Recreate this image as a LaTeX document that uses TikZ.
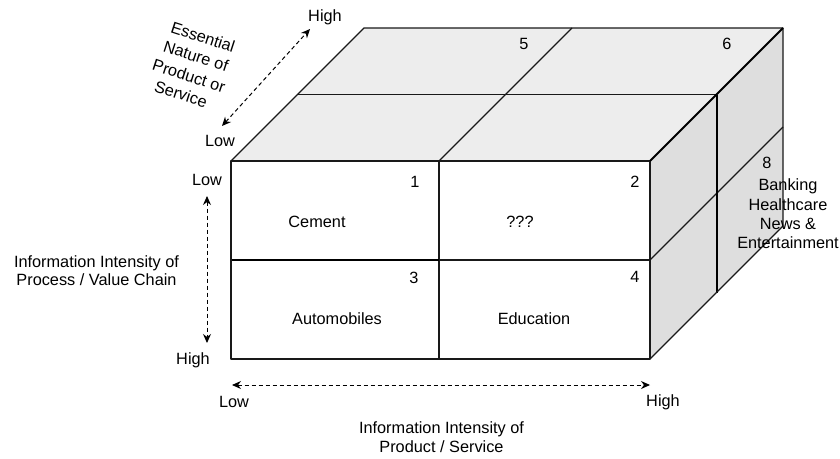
\documentclass[tikz,border=0pt]{standalone}
\usepackage{fontspec}
\setmainfont{Liberation Sans}
\usetikzlibrary{arrows.meta}
\begin{document}
\begin{tikzpicture}[x=1pt,y=-1pt,
  edge/.style={draw=black!90,line width=1.3pt,line join=round},
  thickedge/.style={draw=black,line width=2pt},
  lbl/.style={font=\fontsize{16.3}{19}\selectfont,inner sep=0pt,align=center},
  rlbl/.style={lbl,rotate=-18},
  axis/.style={line width=1pt,dash pattern=on 4pt off 3pt,{Stealth[length=9pt,width=8pt]}-{Stealth[length=9pt,width=8pt]}}]
\useasboundingbox[fill=white] (0,0) rectangle (840,458);
% cube corners
\coordinate (FTL) at (231,161);
\coordinate (FTR) at (650,161);
\coordinate (FBL) at (231,359);
\coordinate (FBR) at (650,359);
\coordinate (BTL) at (364,28);
\coordinate (BTR) at (783,28);
\coordinate (BBR) at (783,226);
% faces
\path[fill=white] (FTL) -- (FTR) -- (FBR) -- (FBL) -- cycle;
\path[fill=black!7] (FTL) -- (BTL) -- (BTR) -- (FTR) -- cycle;
\path[fill=black!13] (FTR) -- (BTR) -- (BBR) -- (FBR) -- cycle;
% inner grid lines
\coordinate (TML) at (297.5,94.5);
\coordinate (TMR) at (716.5,94.5);
\coordinate (RMB) at (716.5,292.5);
\coordinate (FTM) at (439,161);
\coordinate (BTM) at (572,28);
\coordinate (FBM) at (439,359);
\coordinate (FML) at (231,260);
\coordinate (FMM) at (439,260);
\coordinate (FMR) at (650,260);
\coordinate (BMR) at (783,127);
\draw[edge] (TML) -- (TMR);
\draw[edge] (FTM) -- (BTM);
\draw[edge] (FTM) -- (FBM);
\draw[thickedge] (FML) -- (FMM);
\draw[edge] (FMM) -- (FMR);
\draw[edge] (FMR) -- (BMR);
\draw[thickedge] (TMR) -- (RMB);
% outlines
\draw[edge] (FTL) -- (FTR) -- (FBR) -- (FBL) -- cycle;
\draw[edge] (FTL) -- (BTL) -- (BTR) -- (BBR) -- (FBR);
\draw[thickedge] (FTR) -- (BTR);
% cell labels
\node[lbl] (n1) at (415,182) {1};
\node[lbl] (n2) at (635,182) {2};
\node[lbl] (n3) at (414,278) {3};
\node[lbl] (n4) at (635,277) {4};
\node[lbl] (n5) at (524,44) {5};
\node[lbl] (n6) at (727,44) {6};
\node[lbl] (n8) at (767,163) {8};
\node[lbl] (cement) at (317,222) {Cement};
\node[lbl] (qqq) at (520,222) {???};
\node[lbl] (auto) at (337,319) {Automobiles};
\node[lbl] (edu) at (534,319) {Education};
\node[lbl,font=\fontsize{16.3}{19.3}\selectfont] (bank) at (788,214) {Banking\\Healthcare\\News \&\\Entertainment};
% axes
\coordinate (vTop) at (207,196);
\coordinate (vBot) at (207,343);
\draw[axis] (vTop) -- (vBot);
\node[lbl] (vLow) at (207,180) {Low};
\node[lbl] (vHigh) at (193,360) {High};
\node[lbl,font=\fontsize{16.3}{18}\selectfont] (vLabel) at (96.5,271) {Information Intensity of\\Process / Value Chain};
\coordinate (hL) at (232,385);
\coordinate (hR) at (650,385);
\draw[axis] (hL) -- (hR);
\node[lbl] (hLow) at (234,402) {Low};
\node[lbl] (hHigh) at (663,402) {High};
\node[lbl,font=\fontsize{16.3}{18.5}\selectfont] (hLabel) at (441.5,437) {Information Intensity of\\Product / Service};
\coordinate (dL) at (222,126);
\coordinate (dH) at (310,29);
\draw[axis] (dL) -- (dH);
\node[lbl] (dHigh) at (325,17) {High};
\node[lbl] (dLow) at (220,141) {Low};
\node[rlbl] (dL1) at (203,37) {Essential};
\node[rlbl] (dL2) at (196,56) {Nature of};
\node[rlbl] (dL3) at (189,76) {Product or};
\node[rlbl] (dL4) at (181,94) {Service};
\end{tikzpicture}
\end{document}
